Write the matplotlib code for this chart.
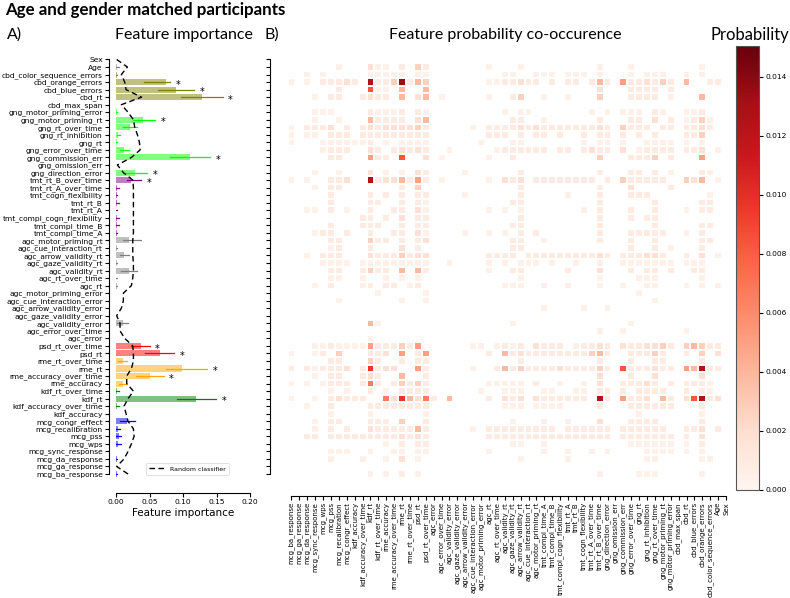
import numpy as np
import matplotlib
matplotlib.use("Agg")
import matplotlib.pyplot as plt
from matplotlib.colors import to_rgb

# ---------------- data ----------------
features = [
    "Sex", "Age", "cbd_color_sequence_errors", "cbd_orange_errors", "cbd_blue_errors",
    "cbd_rt", "cbd_max_span", "gng_motor_priming_error", "gng_motor_priming_rt",
    "gng_rt_over_time", "gng_rt_inhibition", "gng_rt", "gng_error_over_time",
    "gng_commission_err", "gng_omission_err", "gng_direction_error", "tmt_rt_B_over_time",
    "tmt_rt_A_over_time", "tmt_cogn_flexibility", "tmt_rt_B", "tmt_rt_A",
    "tmt_compl_cogn_flexibility", "tmt_compl_time_B", "tmt_compl_time_A",
    "agc_motor_priming_rt", "agc_cue_interaction_rt", "agc_arrow_validity_rt",
    "agc_gaze_validity_rt", "agc_validity_rt", "agc_rt_over_time", "agc_rt",
    "agc_motor_priming_error", "agc_cue_interaction_error", "agc_arrow_validity_error",
    "agc_gaze_validity_error", "agc_validity_error", "agc_error_over_time", "agc_error",
    "psd_rt_over_time", "psd_rt", "rme_rt_over_time", "rme_rt", "rme_accuracy_over_time",
    "rme_accuracy", "kdf_rt_over_time", "kdf_rt", "kdf_accuracy_over_time", "kdf_accuracy",
    "mcg_congr_effect", "mcg_recalibration", "mcg_pss", "mcg_wps", "mcg_sync_response",
    "mcg_da_response", "mcg_ga_response", "mcg_ba_response",
]
groups = (["demo"] * 2 + ["cbd"] * 5 + ["gng"] * 9 + ["tmt"] * 8 + ["agc"] * 14
          + ["psd"] * 2 + ["rme"] * 4 + ["kdf"] * 4 + ["mcg"] * 8)

importance = [
    0.000, 0.002, 0.001, 0.075, 0.090, 0.129, 0.000, 0.001, 0.040, 0.021, 0.0035, 0.001,
    0.012, 0.110, 0.000, 0.028, 0.023, 0.002, 0.001, 0.002, 0.0005, 0.002, 0.002, 0.001,
    0.020, 0.001, 0.0124, 0.001, 0.019, 0.0005, 0.0008, 0.000, 0.000, 0.000, 0.000, 0.010,
    0.000, 0.000, 0.037, 0.066, 0.010, 0.098, 0.051, 0.010, 0.002, 0.119, 0.002, 0.000,
    0.017, 0.003, 0.004, 0.003, 0.000, 0.001, 0.000, 0.001,
]
ci_low = [
    0.000, 0.000, 0.000, 0.042, 0.063, 0.097, 0.000, 0.000, 0.026, 0.011, 0.001, 0.000,
    0.006, 0.081, 0.000, 0.011, 0.016, 0.000, 0.000, 0.000, 0.000, 0.000, 0.000, 0.000,
    0.010, 0.000, 0.006, 0.000, 0.007, 0.000, 0.000, 0.000, 0.000, 0.000, 0.000, 0.002,
    0.000, 0.000, 0.023, 0.044, 0.003, 0.074, 0.030, 0.004, 0.000, 0.091, 0.000, 0.000,
    0.006, 0.000, 0.000, 0.000, 0.000, 0.000, 0.000, 0.000,
]
ci_high = [
    0.000, 0.005, 0.002, 0.080, 0.117, 0.159, 0.000, 0.002, 0.058, 0.032, 0.006, 0.002,
    0.020, 0.141, 0.000, 0.046, 0.038, 0.004, 0.002, 0.004, 0.001, 0.004, 0.004, 0.002,
    0.038, 0.002, 0.019, 0.002, 0.032, 0.001, 0.002, 0.000, 0.000, 0.000, 0.000, 0.0185,
    0.000, 0.000, 0.050, 0.087, 0.017, 0.136, 0.071, 0.016, 0.004, 0.149, 0.004, 0.000,
    0.029, 0.006, 0.008, 0.007, 0.000, 0.002, 0.000, 0.002,
]
significant = [3, 4, 5, 8, 13, 15, 16, 38, 39, 41, 42, 45]

random_classifier = [
    0.001, 0.017, 0.008, 0.013, 0.015, 0.038, 0.008, 0.018, 0.026, 0.028, 0.032, 0.035,
    0.036, 0.023, 0.002, 0.011, 0.025, 0.026, 0.026, 0.026, 0.026, 0.026, 0.026, 0.026,
    0.025, 0.025, 0.025, 0.026, 0.026, 0.025, 0.023, 0.011, 0.011, 0.008, 0.001, 0.006,
    0.006, 0.013, 0.025, 0.026, 0.026, 0.023, 0.016, 0.016, 0.026, 0.018, 0.012, 0.015,
    0.018, 0.026, 0.027, 0.023, 0.018, 0.012, 0.001, 0.018,
]

# co-occurrence probability: one entry per row (features top to bottom);
# tokens "column:level", columns = features in reverse order (left to right)
prob_levels = {"1": 0.0004, "2": 0.0009, "3": 0.0018, "4": 0.0027, "5": 0.0038,
               "6": 0.005, "7": 0.0066, "8": 0.0083, "9": 0.0098, "b": 0.0125,
               "c": 0.0135}
cooc_cells = [
    "",
    "6:1 10:3 11:1 12:1 14:2 16:4 17:2 25:1 29:1 39:1 43:1 52:1",
    "2:1 4:1 10:1 11:1 12:1 13:1 14:1 16:1 17:1 27:1 28:1 31:1 32:1 33:1 35:1 36:1 37:1 39:1 43:1 45:1 46:1 47:1 50:1 52:1",
    "0:1 2:1 4:2 5:2 6:2 7:3 8:2 10:b 11:2 12:2 13:4 14:c 15:2 16:5 17:4 25:1 26:1 27:2 28:2 29:3 30:2 31:2 33:2 35:2 36:2 38:2 39:5 40:2 42:6 43:2 44:2 45:3 46:2 47:4 48:2 50:5 53:2 54:2",
    "6:2 10:8 11:1 12:1 14:5 17:5 39:3 43:2 44:2 45:2 46:2 48:2",
    "3:1 5:2 6:2 9:2 10:3 11:2 12:2 14:5 16:3 17:5 19:1 25:1 28:2 29:4 32:1 35:1 39:4 43:2 44:2 45:2 46:2 48:1 52:5",
    "",
    "3:1 4:1 5:1 10:2 11:1 12:1 13:1 14:2 16:2 17:1 27:1 29:1 30:1 38:1 40:1 42:1 43:1 44:1 46:2 47:1 50:1 51:1 52:2",
    "3:1 6:1 10:5 11:2 12:2 13:2 14:2 16:3 17:5 28:2 29:2 32:1 39:2 43:2 44:2 46:3 48:2 50:1 51:2 52:4 53:1",
    "0:1 2:2 3:2 4:2 5:3 7:2 9:2 10:3 11:2 12:3 13:3 14:3 15:3 16:4 17:2 23:1 25:2 26:2 27:2 28:2 29:3 30:2 31:3 32:2 33:2 34:2 35:2 36:2 37:2 38:2 39:3 40:2 42:4 43:2 44:2 45:2 47:2 48:2 50:2 51:2 52:3 53:2",
    "0:1 2:1 3:1 5:2 6:2 7:2 9:2 10:2 11:2 12:2 13:2 14:2 15:2 16:2 17:2 25:2 26:2 27:2 29:2 31:2 32:2 34:2 37:2 39:2 40:2 42:2 44:2 46:2 50:2 51:2 52:4",
    "0:1 4:1 5:1 6:1 7:1 8:1 9:1 10:2 12:1 14:1 15:1 16:1 17:1 24:1 28:1 29:1 37:1 39:1 40:1 42:1 45:1 46:1 47:1 48:1 50:1 52:1",
    "4:1 5:2 6:2 7:2 10:3 11:2 13:2 14:3 15:2 16:3 17:2 20:1 26:1 27:2 28:2 29:2 30:2 31:2 32:2 34:2 35:2 37:2 38:3 39:2 40:2 42:3 44:1 45:2 46:2 47:2 48:2 50:2 51:2 52:3 54:1",
    "5:2 6:2 10:6 11:2 12:2 14:8 17:3 19:1 25:1 28:2 39:4 43:2 44:2 45:2 46:4 48:2 52:6",
    "",
    "3:1 6:1 10:3 12:1 14:1 16:3 17:2 22:1 29:2 39:2 43:2 44:2 46:2 48:1 52:2 53:1",
    "0:1 2:1 5:2 6:2 7:3 10:b 11:2 12:3 13:3 14:5 15:2 16:6 17:2 19:1 25:1 27:3 28:2 29:3 31:2 32:2 33:2 34:2 35:2 36:2 37:2 38:2 40:2 42:4 43:2 44:2 45:2 46:2 47:2 50:4 51:3 52:5 54:1",
    "3:1 5:2 6:2 14:2 16:4 29:2 39:2 43:3 48:2",
    "5:2 10:2 12:2 14:2 16:2 17:2 22:1 29:2 35:1 39:2 43:2 44:2 45:2 53:1",
    "5:2 10:2 11:2 14:2 16:2 17:1 28:2 29:2 39:2 46:2 52:2 53:2",
    "2:1 3:1 5:2 7:1 10:2 13:2 14:2 16:3 17:1 25:1 27:1 29:1 37:1 39:2 43:2 46:2 50:1 52:2 53:2",
    "9:2 10:2 12:2 14:3 16:2 17:2 29:2 39:2 43:2 45:2 46:2",
    "5:2 9:2 10:2 11:2 14:2 16:2 17:2 28:2 29:2 39:2 46:2 52:2 53:2",
    "3:1 4:2 5:2 7:2 10:2 13:2 14:2 16:3 17:1 22:1 25:1 27:1 29:2 31:2 39:2 43:2 44:2 45:2 46:2 47:2 50:1 52:2",
    "5:2 6:2 10:4 11:2 12:2 14:2 16:2 17:3 28:2 29:2 32:1 39:2 43:2 46:2 52:2 53:2",
    "5:1 6:2 10:2 14:3 16:2 28:2 29:2 43:2 46:2 48:1 52:2",
    "2:1 4:2 5:2 6:2 10:3 11:2 12:2 13:2 14:4 15:2 16:3 17:3 25:2 26:2 27:2 28:2 30:2 31:2 32:2 33:2 34:2 35:2 36:2 37:2 38:2 39:3 40:2 42:2 43:2 44:2 45:3 46:3 47:2 50:2 52:3 54:1",
    "4:1 5:1 6:1 7:1 9:1 10:1 11:1 12:1 13:1 14:1 15:1 16:1 17:1 20:1 25:1 27:1 29:1 30:1 31:1 33:1 36:1 39:1 42:1 43:1 44:1 45:1 46:1 47:1 48:1 50:1 51:1 52:1",
    "5:2 6:2 9:2 10:4 11:2 12:2 14:5 16:5 17:2 25:1 28:2 29:2 35:2 39:3 43:2 45:2 46:2 48:2 51:2 52:2",
    "5:1 6:1 9:1 12:1 14:1 16:1 29:1 39:1 44:1 45:1 46:1 52:1",
    "3:1 5:2 9:1 10:2 12:2 13:2 15:1 16:2 27:1 28:1 29:1 32:1 35:1 39:1 42:1 45:1 46:1 50:1 52:1 54:1",
    "11:1 17:1 44:1",
    "6:1 14:1 17:1 46:1",
    "32:1 37:1 40:1",
    "",
    "10:5 11:1 28:1 43:1",
    "39:1 42:1 50:1",
    "10:1",
    "3:1 4:1 5:2 6:1 7:1 8:1 9:1 10:6 11:2 12:2 13:2 14:4 15:2 16:6 23:1 24:1 26:1 27:2 28:1 29:2 31:3 32:2 33:2 34:2 36:1 37:2 38:2 39:3 40:2 42:3 43:2 44:2 45:3 46:3 47:4 48:2 50:4 51:5 52:4 53:2 54:2",
    "0:1 3:1 4:2 6:4 10:2 11:2 12:3 14:6 16:2 17:6 25:2 27:5 28:2 29:3 30:2 31:2 32:2 33:2 34:2 35:2 36:2 37:2 38:4 39:5 40:2 43:2 44:2 45:2 46:4 47:2 50:2 52:4 54:3",
    "5:2 6:2 10:4 11:2 14:2 16:2 17:2 29:2 39:2 43:2 46:2 47:2 52:2",
    "0:2 2:2 3:1 4:2 5:2 6:2 7:3 9:2 10:9 11:2 12:3 13:3 16:6 17:2 23:1 26:2 27:5 28:2 29:4 30:2 31:2 32:2 33:2 34:3 35:2 36:2 37:2 38:2 39:4 40:2 42:8 43:2 44:2 45:2 46:3 47:2 48:2 50:6 51:5 52:b 53:2 54:2",
    "3:1 5:2 6:2 9:2 10:3 11:2 14:5 17:2 39:3 43:2 46:3 52:3",
    "0:1 2:1 4:1 5:2 6:2 7:2 9:2 10:7 11:2 13:2 14:4 15:2 16:4 17:2 25:1 26:1 27:1 28:1 29:1 31:2 34:1 37:1 39:3 42:2 43:2 44:2 45:3 46:2 48:2 50:2 51:2 52:2 53:1",
    "5:1 7:1 10:2 12:1 14:2 15:2 16:2 17:2 24:1 27:1 28:1 29:1 32:1 33:1 36:1 37:1 39:2 40:2 42:2 44:2 45:2 46:2 47:2 50:2 52:2 53:1",
    "0:1 3:1 5:2 6:3 7:2 8:2 9:2 12:7 13:3 14:9 15:5 16:3 17:7 18:2 20:5 25:2 27:3 28:2 29:3 31:3 32:2 33:2 34:2 35:2 36:2 37:2 39:b 40:2 42:6 43:2 44:2 45:3 47:5 48:2 50:3 51:8 52:b 53:2 54:3",
    "2:1 5:2 10:2 11:2 12:2 13:2 14:2 15:2 16:2 17:2 27:1 28:1 29:1 31:1 32:1 33:1 34:1 39:2 43:2 44:2 45:2 46:2 47:2 48:2 52:2",
    "5:1 10:1 17:1 44:1 52:1",
    "3:1 5:2 6:2 10:2 11:2 12:2 14:4 17:2 28:1 32:1 35:1 39:3 43:2 44:2 45:2 46:2 52:2",
    "3:1 5:2 7:2 10:3 11:2 12:2 13:2 14:2 15:2 16:5 17:2 23:1 25:2 26:2 27:2 28:2 29:2 30:2 31:2 32:2 33:2 35:2 36:2 37:2 38:2 39:2 40:2 42:2 43:2 44:2 45:2 46:2 47:2 50:2 51:2 52:3 54:2",
    "2:2 3:2 5:2 6:2 7:2 8:2 9:2 10:2 11:2 12:2 13:2 14:3 15:2 16:3 17:2 25:2 26:2 27:2 28:2 29:2 30:2 31:2 32:2 33:2 34:2 35:2 36:2 37:2 38:2 39:2 40:2 42:2 43:2 44:2 45:2 46:2 47:2 48:2 50:2 52:3",
    "12:1 14:2 16:2 17:2 28:1 29:1 32:1 43:1 44:1 45:1 46:1 47:1 48:1 50:1 52:2",
    "5:1 6:1 7:1 10:1 13:1 14:1 16:1 17:1 25:1 32:1 35:1 38:1 40:1 45:1 46:1 47:1 48:1 50:1 52:1",
    "5:1 9:1 12:1 14:3 16:1 29:1 35:1 45:1 46:1 52:1 53:1",
    "",
    "10:1 12:1 14:2 16:1 39:1 44:1 45:1 46:1 52:1",
]

# ---------------- style ----------------
group_colors = {"demo": "gray", "cbd": "olive", "gng": "lime", "tmt": "purple",
                "agc": "gray", "psd": "red", "rme": "orange", "kdf": "green",
                "mcg": "blue"}
tick_fs = 5.4

W, H = 790, 598
fig = plt.figure(figsize=(W / 100, H / 100), dpi=100)
y_top, y_bot = 55.7, 477.8
ax1 = fig.add_axes([116 / W, 1 - y_bot / H, 134 / W, (y_bot - y_top) / H])
ax2 = fig.add_axes([287.5 / W, 1 - y_bot / H, 442.5 / W, (y_bot - y_top) / H])
cax = fig.add_axes([736 / W, 1 - 490 / H, 23 / W, 444 / H])

n = len(features)
ypos = np.arange(n)

# spines first (repositioning spines resets tick objects)
for ax in (ax1, ax2):
    for s in ["top", "right"]:
        ax.spines[s].set_visible(False)
    for s in ["left", "bottom"]:
        ax.spines[s].set_linewidth(0.8)
ax1.spines["left"].set_position(("outward", 5))
ax1.spines["bottom"].set_position(("outward", 11))
ax2.spines["left"].set_position(("outward", 12.5))
ax2.spines["bottom"].set_position(("outward", 13))

# ---- panel A ----
for i in range(n):
    c = np.array(to_rgb(group_colors[groups[i]]))
    light = 1 - 0.5 * (1 - c)
    ax1.barh(i, importance[i], height=0.8, color=light, edgecolor="none")
    if ci_high[i] > 0:
        ax1.plot([ci_low[i], ci_high[i]], [i, i], color=group_colors[groups[i]], lw=0.9)
for i in significant:
    ax1.text(ci_high[i] + 0.012, i + 0.35, "*", ha="center", va="center", fontsize=7)
ax1.plot(random_classifier, ypos, ls="--", color="black", lw=1.0, label="Random classifier",
         dashes=(4, 2.5))
ax1.set_ylim(n - 0.5, -0.5)
ax1.set_xlim(0, 0.2)
ax1.set_yticks(ypos)
ax1.set_yticklabels(features)
ax1.set_xticks([0, 0.05, 0.1, 0.15, 0.2])
ax1.set_xticklabels(["0.00", "0.05", "0.10", "0.15", "0.20"])
ax1.set_xlabel("Feature importance", fontsize=7.5, labelpad=2)
ax1.tick_params(axis="both", length=3, width=0.8, pad=1.5, labelsize=tick_fs)
ax1.spines["left"].set_bounds(0, n - 1)
leg = ax1.legend(loc="lower left", bbox_to_anchor=(0.2, 0.0), fontsize=4.5, frameon=True,
                 handlelength=2.5, borderpad=0.5)
leg.get_frame().set_linewidth(0.5)

# ---- panel B ----
M = np.zeros((n, n))
for r, row in enumerate(cooc_cells):
    for tok in row.split():
        col, lev = tok.split(":")
        M[r, int(col)] = prob_levels[lev]
Mm = np.ma.masked_where(M <= 0, M)
xe = np.arange(n + 1) - 0.5
mesh = ax2.pcolormesh(xe, xe, Mm, cmap="Reds", vmin=0, vmax=0.01505,
                      edgecolors="white", linewidth=1.2)
ax2.set_xlim(-0.5, n - 0.5)
ax2.set_ylim(n - 0.5, -0.5)
ax2.set_yticks(ypos)
ax2.set_yticklabels([])
ax2.set_xticks(ypos)
ax2.set_xticklabels(features[::-1], rotation=90)
ax2.tick_params(axis="both", length=3, width=0.8, pad=1.5, labelsize=5.0)
ax2.spines["left"].set_bounds(0, n - 1)
ax2.spines["bottom"].set_bounds(0, n - 1)

cb = fig.colorbar(mesh, cax=cax)
cb.set_ticks([0, 0.002, 0.004, 0.006, 0.008, 0.010, 0.012, 0.014])
cb.ax.set_yticklabels(["0.000", "0.002", "0.004", "0.006", "0.008", "0.010", "0.012", "0.014"])
cb.ax.tick_params(length=3, width=0.8, pad=1.5, labelsize=tick_fs)
cb.outline.set_edgecolor("#555555")
cb.outline.set_linewidth(0.8)

# ---- overlay titles ----
ff = "Lato"
fig.text(5 / W, 1 - 10 / H, "Age and gender matched participants", fontsize=12.2,
         fontweight="bold", family=ff, va="center", ha="left")
fig.text(7 / W, 1 - 35 / H, "A)", fontsize=11.5, family=ff, va="center", ha="left")
fig.text(183.5 / W, 1 - 35 / H, "Feature importance", fontsize=11.5, family=ff, va="center",
         ha="center")
fig.text(265 / W, 1 - 35 / H, "B)", fontsize=11.5, family=ff, va="center", ha="left")
fig.text(505 / W, 1 - 35 / H, "Feature probability co-occurence", fontsize=11.5, family=ff,
         va="center", ha="center")
fig.text(750 / W, 1 - 35 / H, "Probability", fontsize=12, family=ff, va="center",
         ha="center")

fig.savefig("out.png", dpi=100)
